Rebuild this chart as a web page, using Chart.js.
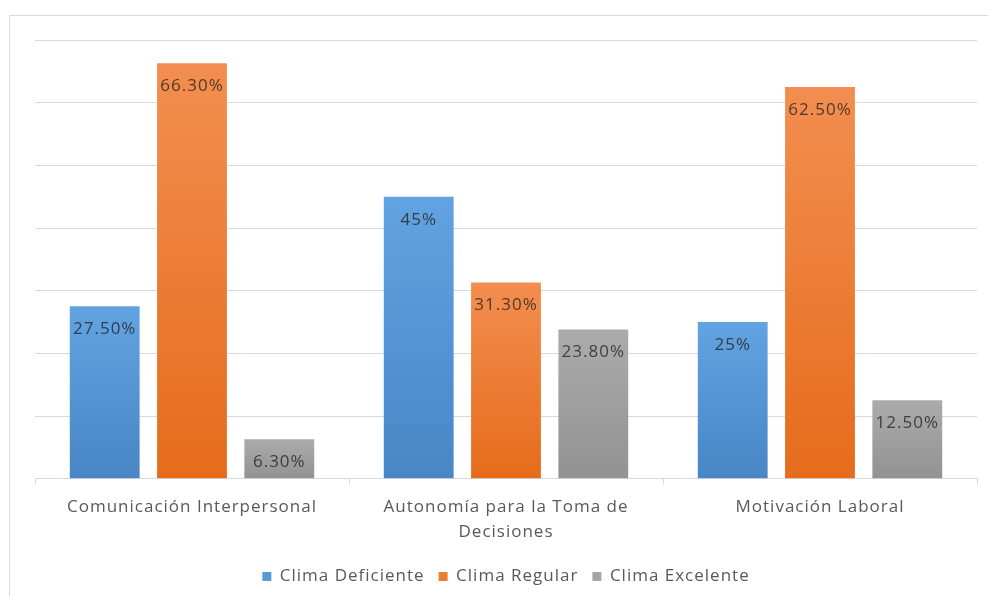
<!DOCTYPE html>
<html>
<head>
<meta charset="utf-8">
<script src="https://cdn.jsdelivr.net/npm/chart.js@4.4.1/dist/chart.umd.min.js"></script>
<style>
  html, body { margin: 0; padding: 0; background: #ffffff; }
  #wrap { width: 988px; height: 596px; position: relative; }
</style>
</head>
<body>
<div id="wrap"><canvas id="chart" width="988" height="596"></canvas></div>
<script>
// Chart data
var categories = [
  'Comunicación Interpersonal',
  ['Autonomía para la Toma de', 'Decisiones'],
  'Motivación Laboral'
];
var seriesNames = ['Clima Deficiente', 'Clima Regular', 'Clima Excelente'];
var deficienteValues = [27.5, 45, 25];
var regularValues = [66.3, 31.3, 62.5];
var excelenteValues = [6.3, 23.8, 12.5];
var deficienteLabels = ['27.50%', '45%', '25%'];
var regularLabels = ['66.30%', '31.30%', '62.50%'];
var excelenteLabels = ['6.30%', '23.80%', '12.50%'];
var yMax = 70;
var yStep = 10;

(function() {
  'use strict';

  var FONT = '"Open Sans", "Liberation Sans", sans-serif';
  var TEXT = '#595959';

  // top / bottom colours of the per-bar gradient
  var palette = [
    { top: '#62a3e2', bottom: '#4886c6', legend: '#5b9bd5' },
    { top: '#f38e50', bottom: '#e56c1b', legend: '#ed7d31' },
    { top: '#ababab', bottom: '#929292', legend: '#a5a5a5' }
  ];

  function barGradient(index) {
    return function(context) {
      var chart = context.chart;
      var scales = chart.scales;
      if (!scales || !scales.y || context.parsed === undefined) {
        return palette[index].legend;
      }
      var yTop = scales.y.getPixelForValue(context.parsed.y);
      var yBottom = scales.y.getPixelForValue(0);
      if (!isFinite(yTop) || !isFinite(yBottom) || yTop === yBottom) {
        return palette[index].legend;
      }
      var g = chart.ctx.createLinearGradient(0, yTop, 0, yBottom);
      g.addColorStop(0, palette[index].top);
      g.addColorStop(1, palette[index].bottom);
      return g;
    };
  }

  // The reference text is set wide, so add a little letter spacing
  var spacingPlugin = {
    id: 'spacing',
    beforeLayout: function(chart) { chart.ctx.letterSpacing = '1px'; },
    beforeDraw: function(chart) { chart.ctx.letterSpacing = '1px'; }
  };

  // Frame around the whole chart
  var framePlugin = {
    id: 'frame',
    beforeDraw: function(chart) {
      var ctx = chart.ctx;
      ctx.save();
      ctx.strokeStyle = '#d9d9d9';
      ctx.lineWidth = 1;
      ctx.strokeRect(9.5, 15.5, 1200, 1200);
      ctx.restore();
    }
  };

  // Value labels drawn inside the top of each bar
  var valueLabelPlugin = {
    id: 'valueLabels',
    afterDatasetsDraw: function(chart) {
      var ctx = chart.ctx;
      ctx.save();
      ctx.font = '17px ' + FONT;
      ctx.textAlign = 'center';
      ctx.textBaseline = 'middle';
      ctx.fillStyle = 'rgba(35, 35, 35, 0.78)';
      chart.data.datasets.forEach(function(ds, i) {
        var meta = chart.getDatasetMeta(i);
        meta.data.forEach(function(bar, j) {
          ctx.fillText(ds.valueLabels[j], bar.x, bar.y + 23);
        });
      });
      ctx.restore();
    }
  };

  var valueSets = [deficienteValues, regularValues, excelenteValues];
  var labelSets = [deficienteLabels, regularLabels, excelenteLabels];

  var datasets = seriesNames.map(function(name, i) {
    return {
      label: name,
      data: valueSets[i],
      valueLabels: labelSets[i],
      backgroundColor: barGradient(i),
      borderWidth: 0,
      categoryPercentage: 0.834,
      barPercentage: 0.8
    };
  });

  new Chart(document.getElementById('chart'), {
    type: 'bar',
    data: {
      labels: categories,
      datasets: datasets
    },
    options: {
      responsive: false,
      animation: false,
      layout: {
        padding: { left: 35, right: 11, top: 40, bottom: 1 }
      },
      plugins: {
        legend: {
          position: 'bottom',
          labels: {
            font: { family: FONT, size: 17 },
            color: TEXT,
            boxWidth: 9,
            boxHeight: 9,
            padding: 14,
            generateLabels: function(chart) {
              return seriesNames.map(function(name, i) {
                return {
                  text: name,
                  fillStyle: palette[i].legend,
                  strokeStyle: palette[i].legend,
                  lineWidth: 0,
                  fontColor: TEXT,
                  datasetIndex: i
                };
              });
            }
          }
        },
        tooltip: { enabled: false }
      },
      scales: {
        x: {
          grid: {
            drawOnChartArea: false,
            drawTicks: true,
            tickLength: 6,
            color: '#d9d9d9'
          },
          border: { color: '#d9d9d9' },
          ticks: {
            font: { family: FONT, size: 17, lineHeight: 1.45 },
            color: TEXT,
            maxRotation: 0,
            padding: 10
          }
        },
        y: {
          min: 0,
          max: yMax,
          ticks: { display: false, stepSize: yStep },
          grid: { color: '#d9d9d9', drawTicks: false },
          border: { display: false },
          afterFit: function(axis) { axis.width = 0; }
        }
      }
    },
    plugins: [spacingPlugin, framePlugin, valueLabelPlugin]
  });
})();
</script>
</body>
</html>
